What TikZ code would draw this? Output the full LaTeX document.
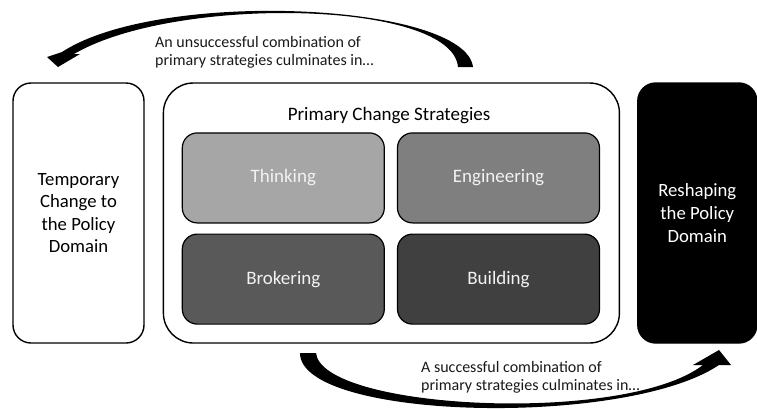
\documentclass[tikz,border=0pt]{standalone}
\usepackage{fontspec}
\setmainfont{Carlito}
\usepackage{tikz}
\usetikzlibrary{positioning}

\definecolor{think}{HTML}{A6A6A6}
\definecolor{engin}{HTML}{7F7F7F}
\definecolor{broker}{HTML}{595959}
\definecolor{build}{HTML}{404040}

\tikzstyle{side} = [rectangle, rounded corners = 18pt,
  minimum height = 260pt, draw = black, line width = 1.4pt,
  align = center, font = \fontsize{18.7}{22.6}\selectfont]
\tikzstyle{frame} = [rectangle, rounded corners = 30pt,
  minimum width = 456pt, minimum height = 260pt,
  draw = black, line width = 1.4pt]
\tikzstyle{strategy} = [
  rectangle, rounded corners = 15pt,
  minimum width = 202pt, minimum height = 90pt,
  draw = black, line width = 1.2pt, text = white!95!black,
  font = \fontsize{19}{22}\selectfont
]
\tikzstyle{note} = [inner sep = 0, align = left, text = black!90,
  font = \fontsize{16}{18}\selectfont]

\begin{document}
\begin{tikzpicture}[x = 1pt, y = -1pt, node distance = 0]
      \useasboundingbox (0, 0) rectangle (757, 408);

      % outcome boxes on both sides of the strategies
      \node [side, minimum width = 131pt] (temp) at (78.5, 213)
        {Temporary\\Change to\\the Policy\\Domain};
      \node [frame, right = 18pt of temp] (strategies) {};
      \node [side, minimum width = 119pt, fill = black, text = white,
        right = 17pt of strategies] (reshape)
        {Reshaping\\the Policy\\Domain};

      % the four primary strategies
      \node [font = \fontsize{19}{22}\selectfont] (strategies-title)
        at (389, 116) {Primary Change Strategies};
      \node [strategy, fill = think, below right = 50pt and 19pt of strategies.north west]
        (strat-think) {Thinking};
      \node [strategy, fill = engin, right = 12pt of strat-think] (strat-engin) {Engineering};
      \node [strategy, fill = broker, below = 10pt of strat-think] (strat-broker) {Brokering};
      \node [strategy, fill = build, right = 12pt of strat-broker] (strat-build) {Building};

      % curved arrows
      \coordinate (fail-tail) at (473, 67);
      \coordinate (fail-tip) at (58, 67);
      \fill [black] (fail-tail) .. controls (465, 3) and (160, -12) .. (62, 52) --
        (47, 57) -- (fail-tip) -- (80, 54) -- (74, 54) ..
        controls (175, -5) and (452, 0) .. (458, 67) -- cycle;
      \node [note, anchor = north west] (note-fail) at (155, 36.5)
        {An unsuccessful combination of\\primary strategies culminates in…};

      \coordinate (success-tail) at (300, 353);
      \coordinate (success-tip) at (719, 350);
      \fill [black] (success-tail) -- (316, 353) .. controls (322, 410) and (625, 425) ..
        (703, 365) -- (693, 365) -- (success-tip) -- (731, 365) -- (719, 365) ..
        controls (625, 428) and (300, 420) .. (success-tail) -- cycle;
      \node [note, anchor = north west] (note-success) at (421, 361)
        {A successful combination of\\primary strategies culminates in…};
    \end{tikzpicture}
\end{document}
